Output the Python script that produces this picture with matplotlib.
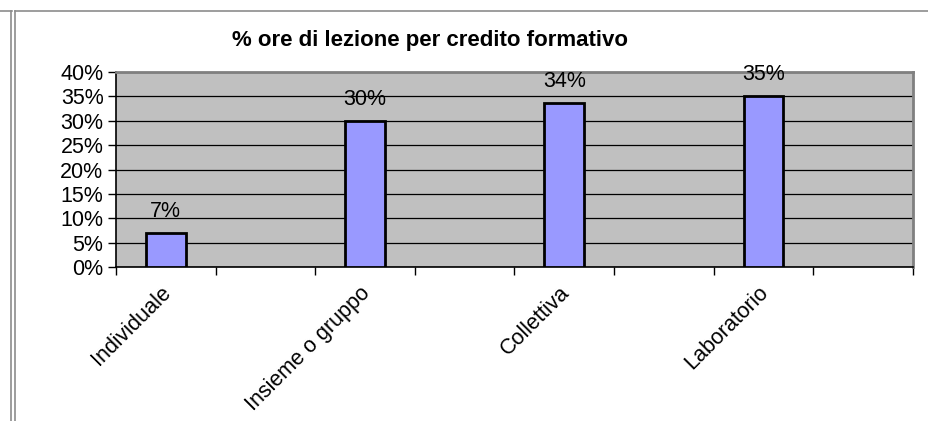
import matplotlib
matplotlib.use("Agg")
import matplotlib.pyplot as plt
from matplotlib.lines import Line2D
from matplotlib.transforms import offset_copy

categories = ["Individuale", "", "Insieme o gruppo", "", "Collettiva", "", "Laboratorio", ""]
values = [0.07, None, 0.30, None, 0.337, None, 0.35, None]
value_labels = ["7%", "", "30%", "", "34%", "", "35%", ""]
y_ticks = [0, 0.05, 0.10, 0.15, 0.20, 0.25, 0.30, 0.35, 0.40]
y_tick_labels = ["0%", "5%", "10%", "15%", "20%", "25%", "30%", "35%", "40%"]
title = "% ore di lezione per credito formativo"

plt.rcParams['font.family'] = ['Liberation Sans', 'DejaVu Sans']
fs = 15.5

W, H = 929, 421
fig = plt.figure(figsize=(W / 100, H / 100), dpi=100)
ax = fig.add_axes([116 / W, 1 - 267 / H, (913 - 116) / W, (267 - 72) / H])
ax.set_facecolor("#C0C0C0")

for i, v in enumerate(values):
    if v is None:
        continue
    ax.bar(i, v, width=0.4, color="#9999FF", edgecolor="black", linewidth=2, zorder=3)
    ax.annotate(value_labels[i], (i, v), xytext=(0, 11.5), textcoords="offset points",
                ha="center", va="baseline", fontsize=fs, zorder=4)

ax.set_xlim(-0.5, len(categories) - 0.5)
ax.set_ylim(0, 0.40)
ax.set_yticks(y_ticks)
ax.set_yticklabels(y_tick_labels, fontsize=fs)
ax.yaxis.grid(True, color="black", linewidth=0.9)
ax.set_axisbelow(True)

# tick marks on the category boundaries, labels drawn by hand at the bars
ax.set_xticks([i - 0.5 for i in range(len(categories) + 1)])
ax.set_xticklabels([])
ax.tick_params(axis="x", length=6, width=1, color="black", direction="out")
ax.tick_params(axis="y", length=6, width=1, color="black", direction="out", pad=3)

lbl_tr = offset_copy(ax.get_xaxis_transform(), fig=fig, x=-4, y=-11, units="points")
for i, c in enumerate(categories):
    if c:
        ax.text(i, 0, c, transform=lbl_tr, fontsize=fs, rotation=45,
                ha="right", va="top", rotation_mode="anchor", clip_on=False)

for s in ["top", "right"]:
    ax.spines[s].set_color("#808080")
    ax.spines[s].set_linewidth(2)
for s in ["left", "bottom"]:
    ax.spines[s].set_color("black")
    ax.spines[s].set_linewidth(1.2)

fig.text(430 / W, 1 - 46 / H, title, ha="center", va="baseline", fontsize=16, fontweight="bold")

# frame lines of the surrounding sheet
frame = "#8C8C8C"
for xs, ys in [([0, 12], [11, 11]), ([11, 11], [11, 421]),
               ([15, 929], [11, 11]), ([15, 15], [11, 421])]:
    fig.add_artist(Line2D([x / W for x in xs], [1 - y / H for y in ys],
                          color=frame, linewidth=1.2, transform=fig.transFigure))

fig.savefig("out.png", dpi=100)
